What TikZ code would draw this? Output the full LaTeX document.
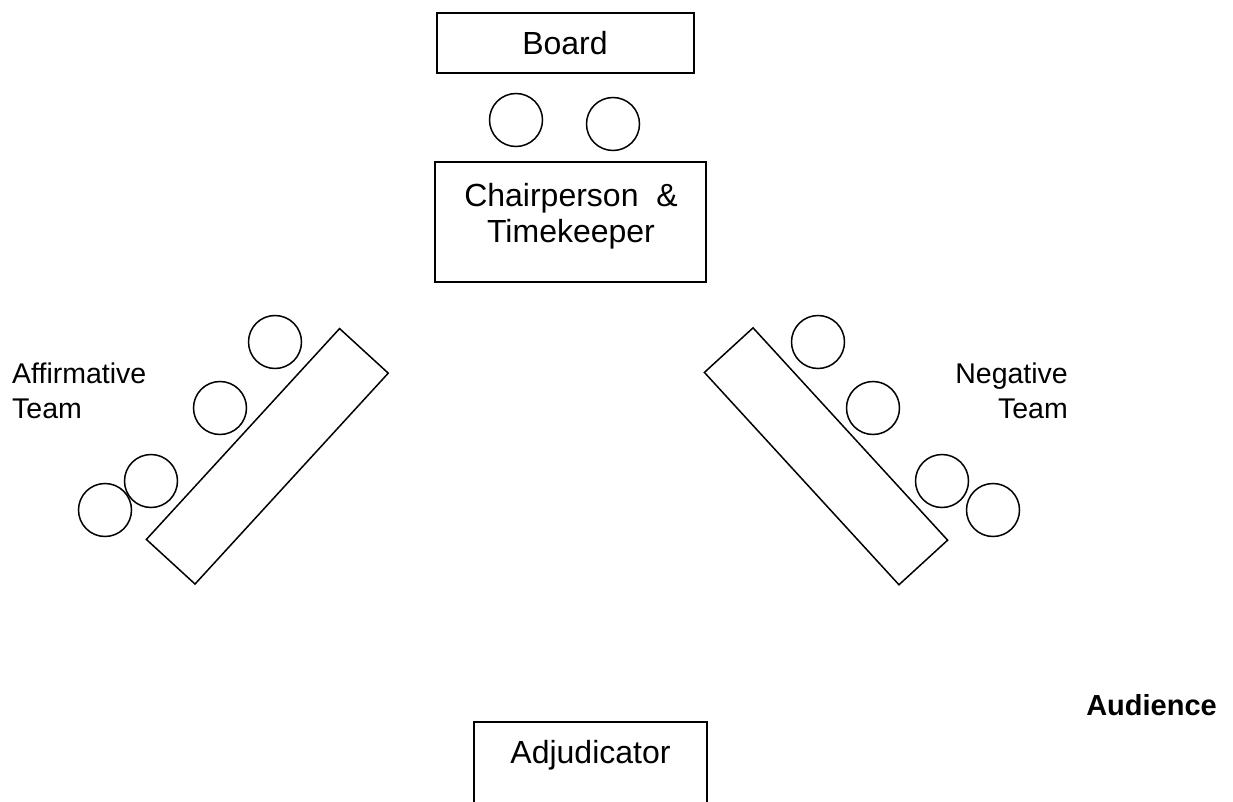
\documentclass[tikz,border=0pt]{standalone}
\usepackage{fontspec}
\setmainfont{Liberation Sans}
\begin{document}
\begin{tikzpicture}[x=1pt,y=-1pt,
  box/.style={draw,line width=1.5pt,rectangle,inner sep=0pt},
  seat/.style={draw,line width=1.5pt,circle,inner sep=0pt,minimum size=53pt},
  big/.style={font=\fontsize{32}{38}\selectfont,inner sep=0pt},
  team/.style={font=\fontsize{28.5}{34}\selectfont,inner sep=0pt},
  aud/.style={font=\fontsize{29}{35}\selectfont\bfseries,inner sep=0pt}]
\useasboundingbox (0,0) rectangle (1233,802);
\clip (0,0) rectangle (1233,802);
% board
\node[box,minimum width=257pt,minimum height=60pt] (board) at (565.5,43) {};
\node[big,anchor=base] (boardtext) at (565,55) {Board};
% chair seats
\node[seat] (cs1) at (516,120) {};
\node[seat] (cs2) at (613,124) {};
% chair table
\node[box,minimum width=271pt,minimum height=120pt] (chair) at (570.5,222) {};
\node[big,anchor=base] (chairA) at (571,207) {Chairperson~~\&};
\node[big,anchor=base] (chairB) at (571,243) {Timekeeper};
% affirmative
\node[box,minimum width=286pt,minimum height=66pt,rotate=47.5] (afftable) at (267.3,456.3) {};
\node[seat] (a1) at (275,342) {};
\node[seat] (a2) at (220,408) {};
\node[seat] (a3) at (151,481) {};
\node[seat] (a4) at (105,510) {};
\node[team,anchor=base west] (affA) at (12,383) {Affirmative};
\node[team,anchor=base west] (affB) at (12,418) {Team};
% negative
\node[box,minimum width=288pt,minimum height=66pt,rotate=-47.5] (negtable) at (826,456.3) {};
\node[seat] (n1) at (818,342) {};
\node[seat] (n2) at (873,408) {};
\node[seat] (n3) at (942,481) {};
\node[seat] (n4) at (993,510) {};
\node[team,anchor=base east] (negA) at (1068,383) {Negative};
\node[team,anchor=base east] (negB) at (1068,418) {Team};
% audience
\node[aud,anchor=base east] (audience) at (1217,715) {Audience};
% adjudicator
\node[box,minimum width=233pt,minimum height=140pt] (adj) at (590.5,792) {};
\node[big,anchor=base] (adjtext) at (590.5,763) {Adjudicator};
\end{tikzpicture}
\end{document}
